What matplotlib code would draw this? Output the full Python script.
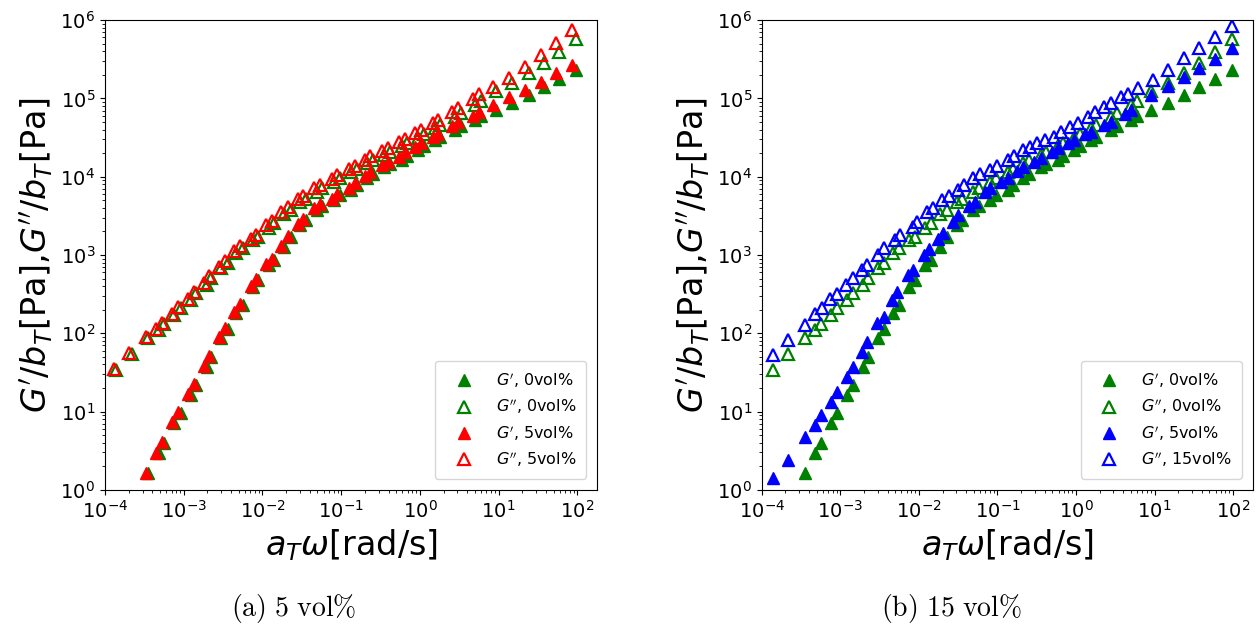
import matplotlib
matplotlib.use("Agg")
import matplotlib.pyplot as plt
import numpy as np

# values are log10 of frequency / modulus
w_gp_0 = [-3.45, -3.32, -3.25, -3.12, -3.04, -2.91, -2.84, -2.71, -2.65, -2.52, -2.44, -2.33, -2.25, -2.12, -2.05,
          -1.92, -1.85, -1.73, -1.64, -1.52, -1.45, -1.31, -1.24, -1.09, -1.02, -0.87, -0.80, -0.67, -0.60, -0.45,
          -0.38, -0.23, -0.16, -0.03, 0.05, 0.19, 0.26, 0.44, 0.52, 0.70, 0.78, 0.96, 1.17, 1.38, 1.57, 1.77, 1.98]
gp_0 = [0.22, 0.47, 0.60, 0.86, 0.98, 1.21, 1.34, 1.57, 1.70, 1.94, 2.06, 2.26, 2.36, 2.59, 2.68,
        2.87, 2.94, 3.10, 3.23, 3.38, 3.45, 3.58, 3.63, 3.70, 3.76, 3.83, 3.89, 3.98, 4.03, 4.12,
        4.16, 4.21, 4.27, 4.34, 4.39, 4.47, 4.51, 4.60, 4.65, 4.73, 4.78, 4.85, 4.94, 5.04, 5.15, 5.25, 5.36]
w_gpp_0 = [-3.86, -3.66] + w_gp_0
gpp_0 = [1.53, 1.74, 1.94, 2.04, 2.12, 2.23, 2.32, 2.43, 2.52, 2.62, 2.71, 2.83, 2.90, 3.03, 3.09, 3.19, 3.23,
         3.35, 3.41, 3.52, 3.58, 3.68, 3.72, 3.81, 3.86, 3.93, 3.98, 4.06, 4.10, 4.17, 4.21, 4.28, 4.32,
         4.39, 4.43, 4.50, 4.54, 4.62, 4.66, 4.76, 4.81, 4.92, 4.97, 5.09, 5.20, 5.32, 5.45, 5.59, 5.76]

w_gp_5 = [-3.48, -3.35, -3.28, -3.15, -3.07, -2.94, -2.87, -2.74, -2.68, -2.55, -2.47, -2.36, -2.28, -2.15, -2.08,
          -1.95, -1.88, -1.76, -1.67, -1.55, -1.48, -1.34, -1.27, -1.12, -1.05, -0.90, -0.83, -0.70, -0.63, -0.48,
          -0.41, -0.26, -0.19, -0.06, 0.02, 0.16, 0.23, 0.41, 0.49, 0.67, 0.75, 0.93, 1.13, 1.34, 1.54, 1.73, 1.93]
gp_5 = [0.22, 0.47, 0.61, 0.87, 0.99, 1.22, 1.35, 1.58, 1.71, 1.95, 2.07, 2.27, 2.37, 2.60, 2.69,
        2.88, 2.95, 3.11, 3.24, 3.39, 3.46, 3.60, 3.65, 3.72, 3.78, 3.86, 3.92, 4.01, 4.06, 4.15,
        4.19, 4.25, 4.31, 4.38, 4.43, 4.51, 4.55, 4.65, 4.70, 4.78, 4.83, 4.91, 5.02, 5.11, 5.21, 5.32, 5.43]
w_gpp_5 = [-3.89, -3.69] + w_gp_5
gpp_5 = [1.54, 1.75, 1.95, 2.05, 2.13, 2.24, 2.33, 2.44, 2.53, 2.64, 2.73, 2.85, 2.92, 3.05, 3.11, 3.21, 3.26,
         3.38, 3.44, 3.55, 3.61, 3.71, 3.75, 3.85, 3.90, 3.97, 4.02, 4.10, 4.14, 4.21, 4.26, 4.33, 4.37,
         4.44, 4.48, 4.56, 4.60, 4.68, 4.72, 4.83, 4.88, 4.99, 5.05, 5.15, 5.26, 5.40, 5.56, 5.71, 5.87]

w_gp_15 = [-3.86, -3.66, -3.45, -3.32, -3.25, -3.12, -3.04, -2.91, -2.84, -2.72, -2.66, -2.53, -2.45, -2.34, -2.28,
           -2.14, -2.07, -1.93, -1.87, -1.76, -1.69, -1.57, -1.50, -1.36, -1.28, -1.16, -1.09, -0.95, -0.87, -0.75,
           -0.67, -0.53, -0.45, -0.31, -0.23, -0.10, -0.03, 0.12, 0.19, 0.36, 0.44, 0.62, 0.70, 0.96, 1.17, 1.38,
           1.57, 1.77, 1.98]
gp_15 = [0.15, 0.38, 0.68, 0.83, 0.96, 1.12, 1.25, 1.44, 1.57, 1.76, 1.89, 2.13, 2.21, 2.43, 2.53,
         2.75, 2.81, 3.00, 3.07, 3.20, 3.28, 3.42, 3.51, 3.62, 3.68, 3.80, 3.86, 3.93, 3.98, 4.07,
         4.12, 4.19, 4.24, 4.32, 4.37, 4.43, 4.47, 4.54, 4.57, 4.66, 4.70, 4.80, 4.85, 5.04, 5.16, 5.27,
         5.39, 5.50, 5.64]
w_gpp_15 = [-3.86, -3.66, -3.45, -3.32, -3.23, -3.13, -3.04, -2.93, -2.84, -2.72, -2.66, -2.52, -2.45, -2.30, -2.24,
            -2.08, -2.02, -1.89, -1.82, -1.70, -1.62, -1.50, -1.42, -1.31, -1.22, -1.09, -1.01, -0.87, -0.79, -0.67,
            -0.58, -0.49, -0.40, -0.28, -0.19, -0.07, 0.02, 0.15, 0.24, 0.36, 0.45, 0.57, 0.66, 0.79, 0.98, 1.17,
            1.38, 1.57, 1.77, 1.98]
gpp_15 = [1.72, 1.92, 2.11, 2.24, 2.32, 2.44, 2.50, 2.62, 2.71, 2.81, 2.87, 3.00, 3.09, 3.19, 3.26,
          3.36, 3.42, 3.55, 3.60, 3.70, 3.75, 3.83, 3.89, 3.98, 4.03, 4.09, 4.14, 4.21, 4.27, 4.34,
          4.38, 4.43, 4.47, 4.51, 4.57, 4.64, 4.69, 4.76, 4.82, 4.89, 4.94, 5.02, 5.06, 5.13, 5.24, 5.36,
          5.51, 5.64, 5.79, 5.93]

captions = [r'$\mathrm{(a)\ 5\ vol\%}$', r'$\mathrm{(b)\ 15\ vol\%}$']


def pw(v):
    return 10.0 ** np.array(v)


def plotSeries(ax, w, g, color, filled, label):
    if filled:
        ax.plot(pw(w), pw(g), '^', color=color, ms=8, ls='none', label=label)
    else:
        ax.plot(pw(w), pw(g), '^', mec=color, mfc='none', mew=1.6, ms=8, ls='none', label=label)


fig = plt.figure(figsize=(12.57, 6.28), dpi=100)
axL = fig.add_axes([0.0835, 0.22, 0.3915, 0.748])
axR = fig.add_axes([0.606, 0.22, 0.3906, 0.748])

plotSeries(axL, w_gp_0, gp_0, 'green', True, r"$G'$, 0vol%")
plotSeries(axL, w_gpp_0, gpp_0, 'green', False, r"$G''$, 0vol%")
plotSeries(axL, w_gp_5, gp_5, 'red', True, r"$G'$, 5vol%")
plotSeries(axL, w_gpp_5, gpp_5, 'red', False, r"$G''$, 5vol%")

plotSeries(axR, w_gp_0, gp_0, 'green', True, r"$G'$, 0vol%")
plotSeries(axR, w_gpp_0, gpp_0, 'green', False, r"$G''$, 0vol%")
plotSeries(axR, w_gp_15, gp_15, 'blue', True, r"$G'$, 5vol%")
plotSeries(axR, w_gpp_15, gpp_15, 'blue', False, r"$G''$, 15vol%")

for ax in [axL, axR]:
    ax.set_xscale('log')
    ax.set_yscale('log')
    ax.set_xlim(1e-4, 10 ** 2.25)
    ax.set_ylim(1, 1e6)
    ax.tick_params(labelsize=14)
    ax.set_xlabel(r'$a_T\omega$[rad/s]', fontsize=24)
    ax.set_ylabel(r"$G'/b_T$[Pa],$G''/b_T$[Pa]", fontsize=24)
    ax.legend(loc='lower right', fontsize=11.5, borderpad=0.6, labelspacing=0.45,
              handlelength=2.4, borderaxespad=0.7)

fig.text(0.234, 0.031, captions[0], math_fontfamily='cm', fontsize=20, ha='center', va='center')
fig.text(0.757, 0.031, captions[1], math_fontfamily='cm', fontsize=20, ha='center', va='center')

fig.savefig('out.png', dpi=100)
